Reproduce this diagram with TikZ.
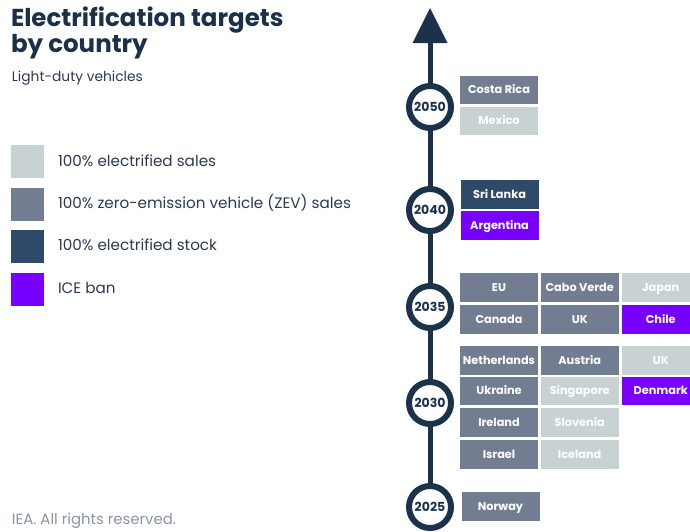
\documentclass[tikz,border=0pt]{standalone}
\usepackage{fontspec}
\setmainfont{Poppins}
\begin{document}
\begin{tikzpicture}[x=1pt,y=-1pt,
  every node/.style={inner sep=0pt, outer sep=0pt},
  cbox/.style={minimum width=78pt, minimum height=28.5pt, anchor=north west,
    text height=8pt, text depth=0pt,
    text=white, font=\fontsize{11.3}{13}\selectfont\bfseries},
  sales/.style={cbox, fill=salesc},
  zev/.style={cbox, fill=zevc},
  stock/.style={cbox, fill=stockc},
  ice/.style={cbox, fill=icec},
  legsq/.style={minimum width=33pt, minimum height=33pt, anchor=west},
  legtxt/.style={anchor=base west, text=bodyc, font=\fontsize{15.2}{17}\selectfont},
  yearc/.style={circle, draw=axisc, line width=6pt, fill=white, minimum size=42pt,
    text=axisc, font=\fontsize{12.5}{14}\selectfont\bfseries},
  axis/.style={draw=axisc, line width=5pt},
  headline/.style={anchor=base west, text=titlec, font=\fontsize{24.5}{28}\selectfont\bfseries}
]
\definecolor{salesc}{RGB}{200,210,210}
\definecolor{zevc}{RGB}{115,125,146}
\definecolor{stockc}{RGB}{46,74,104}
\definecolor{icec}{RGB}{119,0,255}
\definecolor{axisc}{RGB}{28,50,74}
\definecolor{titlec}{RGB}{28,48,73}
\definecolor{bodyc}{RGB}{44,58,77}
\definecolor{footc}{RGB}{138,148,163}

\useasboundingbox (0,0) rectangle (690,531);
\clip (0,0) rectangle (690,531);

% heading
\node[headline] (t1) at (11,26) {Electrification targets};
\node[headline] (t2) at (11,52.5) {by country};
\node[anchor=base west, text=bodyc, font=\fontsize{13.8}{16}\selectfont] (sub) at (12,81) {Light-duty vehicles};

% legend
\node[legsq, fill=salesc] (l1) at (11,161.5) {};
\node[legsq, fill=zevc]   (l2) at (11,204.5) {};
\node[legsq, fill=stockc] (l3) at (11,246.5) {};
\node[legsq, fill=icec]   (l4) at (11,289.5) {};
\node[legtxt] (lt1) at (58,166) {100\% electrified sales};
\node[legtxt] (lt2) at (58,208.5) {100\% zero-emission vehicle (ZEV) sales};
\node[legtxt] (lt3) at (58,250.5) {100\% electrified stock};
\node[legtxt] (lt4) at (58,293) {ICE ban};

% footer
\node[anchor=base west, text=footc, font=\fontsize{14.9}{17}\selectfont] (foot) at (12,524) {IEA. All rights reserved.};

% timeline axis
\coordinate (tip) at (430,8);
\coordinate (headbase) at (430,43);
\coordinate (yb) at (430,507);
\draw[axis] (yb) -- (headbase);
\fill[axisc] (412.5,43) -- (tip) -- (447.5,43) -- cycle;

\node[yearc] (y2050) at (430,107) {2050};
\node[yearc] (y2040) at (430,210) {2040};
\node[yearc] (y2035) at (430,307) {2035};
\node[yearc] (y2030) at (430,403) {2030};
\node[yearc] (y2025) at (430,507) {2025};

% 2050
\node[zev]   (costarica) at (460,75.7)  {Costa Rica};
\node[sales] (mexico)    at (460,106.7) {Mexico};
% 2040
\node[stock] (srilanka)  at (460.5,180) {Sri Lanka};
\node[ice]   (argentina) at (460.5,211) {Argentina};
% 2035
\node[zev]   (eu)        at (460,273.3)   {EU};
\node[zev]   (caboverde) at (540.7,273.3) {Cabo Verde};
\node[sales] (japan)     at (621.7,273.3) {Japan};
\node[zev]   (canada)    at (460,305)     {Canada};
\node[zev]   (uka)       at (540.7,305)   {UK};
\node[ice]   (chile)     at (621.7,305)   {Chile};
% 2030
\node[zev]   (netherlands) at (460,346)     {Netherlands};
\node[zev]   (austria)     at (540.7,346)   {Austria};
\node[sales] (ukb)         at (621.7,346)   {UK};
\node[zev]   (ukraine)     at (460,376.7)   {Ukraine};
\node[sales] (singapore)   at (540.7,376.7) {Singapore};
\node[ice]   (denmark)     at (621.7,376.7) {Denmark};
\node[zev]   (ireland)     at (460,408.3)   {Ireland};
\node[sales] (slovenia)    at (540.7,408.3) {Slovenia};
\node[zev]   (israel)      at (460,440)     {Israel};
\node[sales] (iceland)     at (540.7,440)   {Iceland};
% 2025
\node[zev]   (norway)      at (461.5,492.3) {Norway};
\end{tikzpicture}
\end{document}
